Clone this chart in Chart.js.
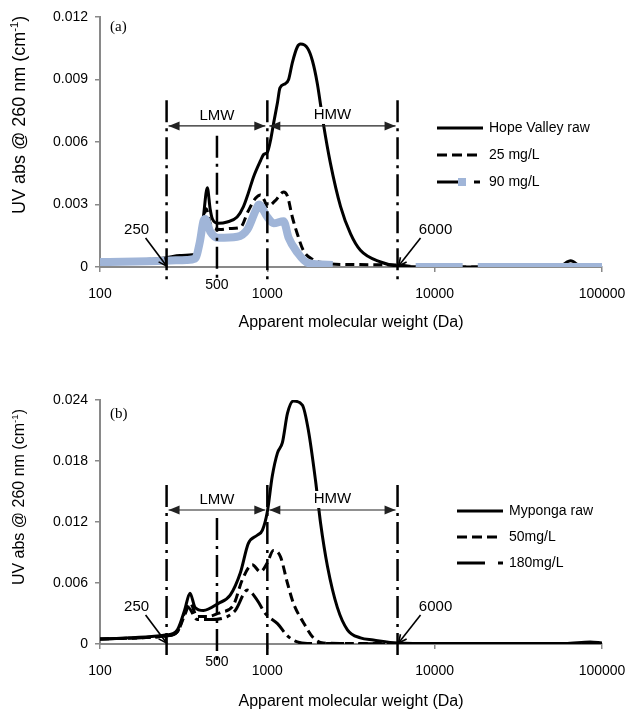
<!DOCTYPE html>
<html>
<head>
<meta charset="utf-8">
<script src="https://cdn.jsdelivr.net/npm/chart.js@4.4.0/dist/chart.umd.min.js"></script>
<style>
  html, body { margin: 0; padding: 0; background: #fff; }
  .box { position: absolute; left: 0; width: 628px; }
  #boxA { top: 0; height: 340px; }
  #boxB { top: 340px; height: 373px; }
  canvas { display: block; }
</style>
</head>
<body>
<div class="box" id="boxA"><canvas id="chartA" width="628" height="340"></canvas></div>
<div class="box" id="boxB"><canvas id="chartB" width="628" height="373"></canvas></div>
<script>
// Panel (a): Hope Valley
const hvRawMw = [100, 170, 250, 300, 370, 395, 415, 438, 455, 470, 510, 575, 660, 720, 770, 825, 910, 950, 1000, 1040, 1090, 1150, 1190, 1280, 1340, 1410, 1510, 1580, 1740, 1860, 1990, 2160, 2380, 2740, 3140, 3600, 4750, 6000, 10000, 40000, 56000, 65000, 75000, 100000];
const hvRawAbs = [0.0002, 0.0003, 0.00045, 0.00055, 0.0006, 0.0009, 0.0024, 0.0038, 0.0028, 0.0023, 0.0021, 0.00216, 0.0024, 0.0029, 0.00355, 0.0043, 0.0051, 0.0054, 0.0055, 0.0060, 0.0069, 0.0079, 0.0086, 0.0088, 0.0090, 0.0098, 0.01056, 0.0107, 0.0105, 0.0099, 0.0088, 0.0069, 0.0050, 0.0029, 0.0016, 0.0008, 0.00024, 0.00005, 0, 0, 0.00005, 0.0003, 0.00003, 0];

const hv25Mw = [100, 250, 370, 400, 430, 460, 524, 600, 690, 770, 850, 910, 960, 1000, 1120, 1250, 1320, 1410, 1510, 1640, 1890, 2160, 3000, 6000, 8000, 100000];
const hv25Abs = [0.0002, 0.0004, 0.0005, 0.0012, 0.0028, 0.0020, 0.0018, 0.00185, 0.0019, 0.0027, 0.0033, 0.00346, 0.0032, 0.0029, 0.0032, 0.0036, 0.0034, 0.0024, 0.0016, 0.0008, 0.00034, 0.0002, 0.00012, 0.0001, 0, 0];

// null = break in the 90 mg/L trace
const hv90Mw = [100, 250, 330, 370, 395, 415, 426, 456, 510, 660, 760, 850, 890, 1000, 1090, 1250, 1340, 1510, 1740, 2460, 4000, 7700, 14700, 16000, 18100, 100000];
const hv90Abs = [0.00024, 0.0003, 0.00034, 0.0004, 0.0012, 0.0022, 0.0023, 0.0017, 0.0014, 0.00145, 0.0018, 0.0027, 0.0030, 0.0024, 0.0021, 0.0022, 0.0014, 0.0007, 0.0002, 0.0001, null, 0, 0, null, 0, 0];

// Panel (b): Myponga
const myRawMw = [100, 250, 290, 320, 345, 370, 415, 510, 600, 690, 770, 870, 935, 1000, 1070, 1150, 1230, 1320, 1430, 1620, 1760, 1940, 2080, 2290, 2620, 3010, 3600, 4300, 6000, 10000, 60000, 85000, 100000];
const myRawAbs = [0.0005, 0.0009, 0.0014, 0.0033, 0.0050, 0.0036, 0.0033, 0.0040, 0.0048, 0.0070, 0.0099, 0.0107, 0.0112, 0.0130, 0.0165, 0.0188, 0.0198, 0.0227, 0.0239, 0.0235, 0.0210, 0.0161, 0.0119, 0.0076, 0.0036, 0.0014, 0.0006, 0.0004, 0.0001, 0.00005, 0.00005, 0.0002, 0.0001];

const my50Mw = [100, 250, 290, 320, 346, 381, 437, 524, 626, 708, 813, 908, 1000, 1086, 1197, 1318, 1432, 1644, 1885, 2164, 3000, 6000, 10000, 100000];
const my50Abs = [0.0005, 0.0008, 0.0012, 0.0028, 0.0040, 0.0027, 0.0027, 0.0031, 0.0038, 0.0063, 0.0078, 0.0071, 0.0080, 0.0092, 0.0086, 0.0060, 0.0040, 0.0021, 0.0006, 0.0001, 0.00005, 0.00005, 0, 0];

const my180Mw = [100, 250, 290, 336, 381, 456, 576, 643, 760, 871, 973, 1150, 1320, 1510, 1735, 2500, 6000, 100000];
const my180Abs = [0.0005, 0.0008, 0.0012, 0.0036, 0.0024, 0.0024, 0.0027, 0.0033, 0.0053, 0.0043, 0.0030, 0.0020, 0.0008, 0.0002, 0.00005, 0.00005, 0, 0];

const xTicks = [100, 1000, 10000, 100000];
const cutoffs = [250, 500, 1000, 6000];

const sans = '"Liberation Sans", Arial, sans-serif';
const serif = '"Liberation Serif", "Times New Roman", serif';
const axisGray = '#898989';
const blue = '#a0b5d8';
const dashDot = [22, 6, 3, 6];

function text(ctx, str, x, y, font, align) {
  ctx.font = font;
  ctx.textAlign = align || 'center';
  ctx.textBaseline = 'middle';
  ctx.fillStyle = '#000';
  ctx.fillText(str, x, y);
}

function filledHead(ctx, tipX, y, dir) {
  ctx.beginPath();
  ctx.moveTo(tipX, y);
  ctx.lineTo(tipX - dir * 11, y - 4.5);
  ctx.lineTo(tipX - dir * 11, y + 4.5);
  ctx.closePath();
  ctx.fill();
}

function pointer(ctx, x0, y0, x1, y1) {
  ctx.setLineDash([]);
  ctx.lineWidth = 1.6;
  ctx.beginPath(); ctx.moveTo(x0, y0); ctx.lineTo(x1, y1); ctx.stroke();
  const a = Math.atan2(y1 - y0, x1 - x0);
  ctx.beginPath();
  ctx.moveTo(x1 - 9 * Math.cos(a - 0.45), y1 - 9 * Math.sin(a - 0.45));
  ctx.lineTo(x1, y1);
  ctx.lineTo(x1 - 9 * Math.cos(a + 0.45), y1 - 9 * Math.sin(a + 0.45));
  ctx.stroke();
}

const annotate = {
  id: 'annotate',
  afterDatasetsDraw(chart, args, opts) {
    const p = opts.panel;
    const { ctx, chartArea: area } = chart;
    const x = chart.scales.x, y = chart.scales.y;
    ctx.save();
    ctx.strokeStyle = '#000';
    ctx.fillStyle = '#000';

    // cut-off lines
    ctx.lineWidth = 2.5;
    ctx.setLineDash(dashDot);
    cutoffs.forEach(mw => {
      const px = x.getPixelForValue(mw);
      const top = y.getPixelForValue(mw === 500 ? p.midTop : p.cutTop);
      ctx.beginPath(); ctx.moveTo(px, top); ctx.lineTo(px, area.bottom + 16); ctx.stroke();
    });

    // LMW / HMW range arrows
    const ay = y.getPixelForValue(p.arrowAt);
    const x250 = x.getPixelForValue(250), x1k = x.getPixelForValue(1000), x6k = x.getPixelForValue(6000);
    ctx.setLineDash([]);
    ctx.lineWidth = 1.2;
    ctx.strokeStyle = '#222'; ctx.fillStyle = '#222';
    [[x250 + 2, x1k - 2], [x1k + 2, x6k - 2]].forEach(([a, b]) => {
      ctx.beginPath(); ctx.moveTo(a, ay); ctx.lineTo(b, ay); ctx.stroke();
      filledHead(ctx, a, ay, -1);
      filledHead(ctx, b, ay, 1);
    });
    text(ctx, 'LMW', (x250 + x1k) / 2, ay - 10, '15px ' + sans);
    ctx.font = '15px ' + sans;
    const hx = (x1k + x6k) / 2, hw = ctx.measureText('HMW').width;
    ctx.fillStyle = '#fff';
    ctx.fillRect(hx - hw / 2 - 2, ay - 19, hw + 4, 17);
    text(ctx, 'HMW', hx, ay - 11, '15px ' + sans);

    // 250 and 6000 pointers
    ctx.strokeStyle = '#000';
    const y0 = y.getPixelForValue(0);
    pointer(ctx, x250 - 21, y0 - 29, x250, y0 - 1);
    pointer(ctx, x6k + 23, y0 - 29, x6k + 1, y0 - 1);
    text(ctx, '250', x250 - 30, y0 - 37, '15px ' + sans);
    text(ctx, '6000', x6k + 38, y0 - 37, '15px ' + sans);
    text(ctx, '500', x.getPixelForValue(500), area.bottom + 18, '14px ' + sans);

    // panel letter
    text(ctx, p.letter, area.left + 10, area.top + p.letterDy, '15px ' + serif, 'left');

    // legend
    p.legend.forEach((item, i) => {
      const ly = area.top + 111 + i * p.legendGap;
      const lx = p.legendX;
      ctx.lineWidth = 3;
      ctx.strokeStyle = '#000';
      item.segs.forEach(([s, e]) => {
        ctx.setLineDash([]);
        ctx.beginPath(); ctx.moveTo(lx + s, ly); ctx.lineTo(lx + e, ly); ctx.stroke();
      });
      if (item.square) {
        ctx.fillStyle = blue;
        ctx.fillRect(lx + 21, ly - 4, 8, 8);
      }
      text(ctx, item.label, lx + 52, ly, '14px ' + sans, 'left');
    });

    // y title with superscript
    ctx.save();
    ctx.translate(20, area.top + p.yTitleDy);
    ctx.rotate(-Math.PI / 2);
    const fs = p.yTitleSize;
    const main = 'UV abs @ 260 nm (cm';
    ctx.font = fs + 'px ' + sans; const w1 = ctx.measureText(main).width;
    ctx.font = (fs * 0.62) + 'px ' + sans; const w2 = ctx.measureText('-1').width;
    ctx.font = fs + 'px ' + sans; const w3 = ctx.measureText(')').width;
    const st = -(w1 + w2 + w3) / 2;
    text(ctx, main, st, 0, fs + 'px ' + sans, 'left');
    text(ctx, '-1', st + w1, -fs * 0.3, (fs * 0.62) + 'px ' + sans, 'left');
    text(ctx, ')', st + w1 + w2, 0, fs + 'px ' + sans, 'left');
    ctx.restore();

    // x title
    text(ctx, 'Apparent molecular weight (Da)', (area.left + area.right) / 2, area.bottom + p.xTitleDy, '16px ' + sans);
    ctx.restore();
  }
};

function makeChart(id, series, panel) {
  return new Chart(document.getElementById(id), {
    type: 'line',
    data: {
      datasets: series.map(s => ({
        label: s.label,
        data: s.mw.map((m, i) => ({ x: m, y: s.abs[i] })),
        borderColor: s.color,
        borderWidth: s.width,
        borderDash: s.dash,
        borderCapStyle: 'butt',
        pointRadius: 0,
        fill: false,
        spanGaps: false,
        cubicInterpolationMode: 'monotone',
        order: s.order
      }))
    },
    options: {
      responsive: false,
      animation: false,
      events: [],
      layout: { padding: { left: 0, right: 26, top: panel.top, bottom: 0 } },
      plugins: {
        legend: { display: false },
        tooltip: { enabled: false },
        annotate: { panel: panel }
      },
      scales: {
        x: {
          type: 'logarithmic',
          min: 100,
          max: 100000,
          afterBuildTicks: sc => { sc.ticks = xTicks.map(v => ({ value: v })); },
          afterFit: sc => {
            sc.height = panel.xAxisHeight;
            sc.paddingLeft = 0;
            sc.paddingRight = 0;
          },
          ticks: {
            callback: v => String(v),
            font: { family: sans, size: 14 },
            color: '#000',
            padding: 14,
            maxRotation: 0,
            autoSkip: false
          },
          grid: { drawOnChartArea: false, drawTicks: true, tickLength: 5, color: axisGray, lineWidth: 1.5 },
          border: { color: axisGray, width: 2 }
        },
        y: {
          min: 0,
          max: panel.yMax,
          afterFit: sc => { sc.width = 100; },
          ticks: {
            stepSize: panel.yStep,
            callback: v => (v === 0 ? '0' : v.toFixed(3)),
            font: { family: sans, size: 14 },
            color: '#000',
            padding: 7
          },
          grid: { drawOnChartArea: false, drawTicks: true, tickLength: 5, color: axisGray, lineWidth: 1.5 },
          border: { color: axisGray, width: 2 }
        }
      }
    },
    plugins: [annotate]
  });
}

makeChart('chartA', [
  { label: 'Hope Valley raw', mw: hvRawMw, abs: hvRawAbs, color: '#000', width: 3, dash: [], order: 3 },
  { label: '25 mg/L', mw: hv25Mw, abs: hv25Abs, color: '#000', width: 3, dash: [9, 5], order: 2 },
  { label: '90 mg/L', mw: hv90Mw, abs: hv90Abs, color: blue, width: 8, dash: [], order: 1 }
], {
  top: 17, xAxisHeight: 73, yMax: 0.012, yStep: 0.003,
  cutTop: 0.0080, midTop: 0.0063, arrowAt: 0.00677,
  letter: '(a)', letterDy: 10, yTitleDy: 98, yTitleSize: 18, xTitleDy: 56,
  legendX: 437, legendGap: 27,
  legend: [
    { label: 'Hope Valley raw', segs: [[0, 46]] },
    { label: '25 mg/L', segs: [[0, 10], [15, 25], [30, 40]] },
    { label: '90 mg/L', segs: [[0, 21], [37, 43]], square: true }
  ]
});

makeChart('chartB', [
  { label: 'Myponga raw', mw: myRawMw, abs: myRawAbs, color: '#000', width: 3, dash: [], order: 1 },
  { label: '50mg/L', mw: my50Mw, abs: my50Abs, color: '#000', width: 3, dash: [9, 5], order: 2 },
  { label: '180mg/L', mw: my180Mw, abs: my180Abs, color: '#000', width: 3, dash: [18, 5, 4, 5], order: 3 }
], {
  top: 60, xAxisHeight: 69, yMax: 0.024, yStep: 0.006,
  cutTop: 0.01564, midTop: 0.0124, arrowAt: 0.01318,
  letter: '(b)', letterDy: 14, yTitleDy: 97, yTitleSize: 16, xTitleDy: 58,
  legendX: 457, legendGap: 26,
  legend: [
    { label: 'Myponga raw', segs: [[0, 46]] },
    { label: '50mg/L', segs: [[0, 10], [15, 25], [30, 40]] },
    { label: '180mg/L', segs: [[0, 28], [41, 46]] }
  ]
});
</script>
</body>
</html>
